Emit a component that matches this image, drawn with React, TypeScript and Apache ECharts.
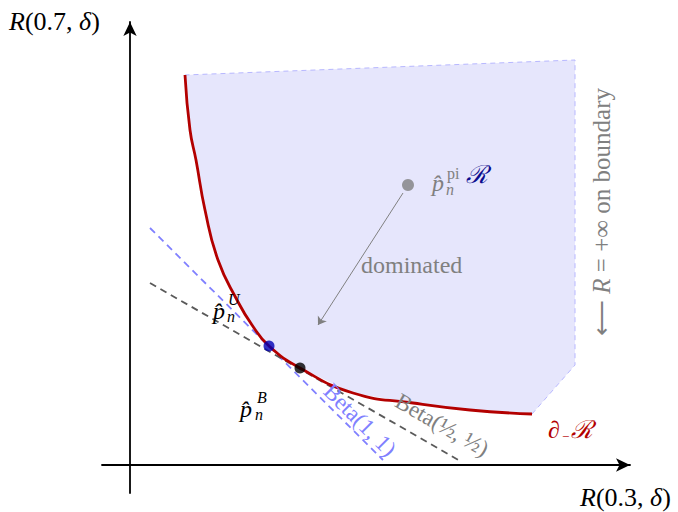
import React, { useEffect, useRef } from "react";
import * as echarts from "echarts";

// Lower boundary of the risk region (data units)
const curveX = [1.1, 1.2, 1.32, 1.5, 1.76, 2.14, 2.44, 2.78, 3.4, 4.46, 5.66, 6.8, 8.04];
const curveY = [7.8, 6.7, 6.1, 5.1, 4.1, 3.3, 2.8, 2.38, 1.94, 1.44, 1.24, 1.1, 1.02];
// Remaining corners of the region (after curve end, going round)
const cornerX = [8.9, 8.9];
const cornerY = [2.0, 8.1];
// Tangent lines
const beta11X = [0.4, 5.06];
const beta11Y = [4.74, 0.1];
const betaHalfX = [0.4, 6.64];
const betaHalfY = [3.64, 0.06];
// Points
const uniformPt = [2.78, 2.38];
const jeffreysPt = [3.4, 1.94];
const pluginPt = [5.56, 5.6];
// Dominated arrow
const arrowFrom = [5.46, 5.44];
const arrowTo = [3.76, 2.8];

const FONT = "'Liberation Serif', serif";
const MATHSYM = "'DejaVu Serif', serif";

function txt(x: number, y: number, text: string, opts: any = {}) {
  const { rotation, rich, ...style } = opts;
  return {
    type: "text",
    x,
    y,
    rotation: rotation || 0,
    z: 100,
    style: {
      text,
      fontFamily: FONT,
      fontSize: 20,
      fill: "#000",
      align: "left",
      verticalAlign: "middle",
      rich,
      ...style,
    },
  };
}

export default function App() {
  const ref = useRef<HTMLDivElement>(null);
  useEffect(() => {
    if (!ref.current) return;
    const chart = echarts.init(ref.current, undefined, { renderer: "svg" });
    const curveData = curveX.map((x, i) => [x, curveY[i]]);
    const regionX = [...curveX, ...cornerX];
    const regionY = [...curveY, ...cornerY];
    const italic = { fontStyle: "italic", fontFamily: FONT };
    chart.setOption({
      animation: false,
      grid: { left: 102, right: 48, top: 22, bottom: 19 },
      xAxis: {
        type: "value",
        min: -0.56,
        max: 10,
        axisLine: {
          onZero: true,
          symbol: ["none", "arrow"],
          symbolSize: [10, 14],
          lineStyle: { color: "#000", width: 1.8 },
        },
        axisTick: { show: false },
        axisLabel: { show: false },
        splitLine: { show: false },
      },
      yAxis: {
        type: "value",
        min: -0.56,
        max: 8.86,
        axisLine: {
          onZero: true,
          symbol: ["none", "arrow"],
          symbolSize: [10, 14],
          lineStyle: { color: "#000", width: 1.8 },
        },
        axisTick: { show: false },
        axisLabel: { show: false },
        splitLine: { show: false },
      },
      series: [
        {
          type: "custom",
          data: [[0, 0]],
          z: 1,
          silent: true,
          renderItem: (_p: any, api: any) => {
            const pts = regionX.map((x, i) => api.coord([x, regionY[i]]));
            const border = [
              api.coord([curveX[curveX.length - 1], curveY[curveY.length - 1]]),
              ...cornerX.map((x, i) => api.coord([x, cornerY[i]])),
              api.coord([curveX[0], curveY[0]]),
            ];
            return {
              type: "group",
              children: [
                { type: "polygon", shape: { points: pts }, style: { fill: "#e6e6fc", stroke: "none" } },
                {
                  type: "polyline",
                  shape: { points: border },
                  style: { fill: "none", stroke: "#b8b8ff", lineWidth: 1, lineDash: [5, 4] },
                },
              ],
            };
          },
        },
        {
          type: "line",
          data: beta11X.map((x, i) => [x, beta11Y[i]]),
          showSymbol: false,
          symbol: "none",
          z: 3,
          lineStyle: { color: "#8080ff", width: 1.8, type: [7, 5] },
        },
        {
          type: "line",
          data: betaHalfX.map((x, i) => [x, betaHalfY[i]]),
          showSymbol: false,
          symbol: "none",
          z: 3,
          lineStyle: { color: "#5a5a5a", width: 1.8, type: [7, 5] },
        },
        {
          type: "line",
          data: curveData,
          smooth: 0.5,
          showSymbol: false,
          symbol: "none",
          z: 4,
          lineStyle: { color: "#b30000", width: 2.8 },
        },
        {
          type: "lines",
          coordinateSystem: "cartesian2d",
          z: 5,
          symbol: ["none", "arrow"],
          symbolSize: 8,
          lineStyle: { color: "#808080", width: 1, opacity: 1 },
          data: [{ coords: [arrowFrom, arrowTo] }],
        },
        {
          type: "scatter",
          z: 6,
          symbolSize: 11,
          data: [
            { value: uniformPt, itemStyle: { color: "#0000b4" } },
            { value: jeffreysPt, itemStyle: { color: "#000" } },
            { value: pluginPt, itemStyle: { color: "#808080" }, symbolSize: 12 },
          ],
        },
      ],
      graphic: [
        txt(9, 21, "{i|R}(0.7, {i|δ})", { fontSize: 26, rich: { i: { ...italic, fontSize: 26 } } }),
        txt(580, 497, "{i|R}(0.3, {i|δ})", { fontSize: 26, rich: { i: { ...italic, fontSize: 26 } } }),
        txt(361, 265, "dominated", { fill: "#808080", fontSize: 24 }),
        // p hat pi
        txt(432, 183, "p\u0302", { fill: "#808080", fontSize: 24, fontStyle: "italic" }),
        txt(446, 189, "n", { fill: "#808080", fontSize: 16, fontStyle: "italic" }),
        txt(447, 173, "pi", { fill: "#808080", fontSize: 16 }),
        txt(466, 174, "ℛ", { fill: "#0d0d8f", fontSize: 25, fontFamily: MATHSYM, fontStyle: "italic" }),
        // p hat U
        txt(213, 311, "p\u0302", { fontSize: 24, fontStyle: "italic" }),
        txt(227, 316, "n", { fontSize: 16, fontStyle: "italic" }),
        txt(228, 299, "U", { fontSize: 16, fontStyle: "italic" }),
        // p hat B
        txt(240, 409, "p\u0302", { fontSize: 24, fontStyle: "italic" }),
        txt(255, 414, "n", { fontSize: 16, fontStyle: "italic" }),
        txt(257, 397, "B", { fontSize: 16, fontStyle: "italic" }),
        // boundary label
        txt(548, 430, "∂", { fill: "#b30000", fontSize: 24, fontStyle: "italic" }),
        txt(562, 436, "−", { fill: "#b30000", fontSize: 13 }),
        txt(571, 429, "ℛ", { fill: "#b30000", fontSize: 25, fontFamily: MATHSYM, fontStyle: "italic" }),
        // Beta labels
        txt(360, 420, "Beta(1, 1)", { fill: "#8080ff", align: "center", rotation: -Math.PI / 4, fontSize: 23 }),
        txt(442, 425, "Beta(½, ½)", { fill: "#808080", align: "center", rotation: -0.52, fontSize: 23 }),
        // infinity note
        txt(601, 212, "⟵ {i|R} = +∞ on boundary", {
          fill: "#808080",
          align: "center",
          rotation: Math.PI / 2,
          fontSize: 25,
          rich: { i: { ...italic, fontSize: 25, fill: "#808080" } },
        }),
      ],
    });
    return () => chart.dispose();
  }, []);
  return (
    <div
      ref={ref}
      style={{ position: "absolute", left: 0, top: 0, width: 678, height: 512 }}
    />
  );
}
